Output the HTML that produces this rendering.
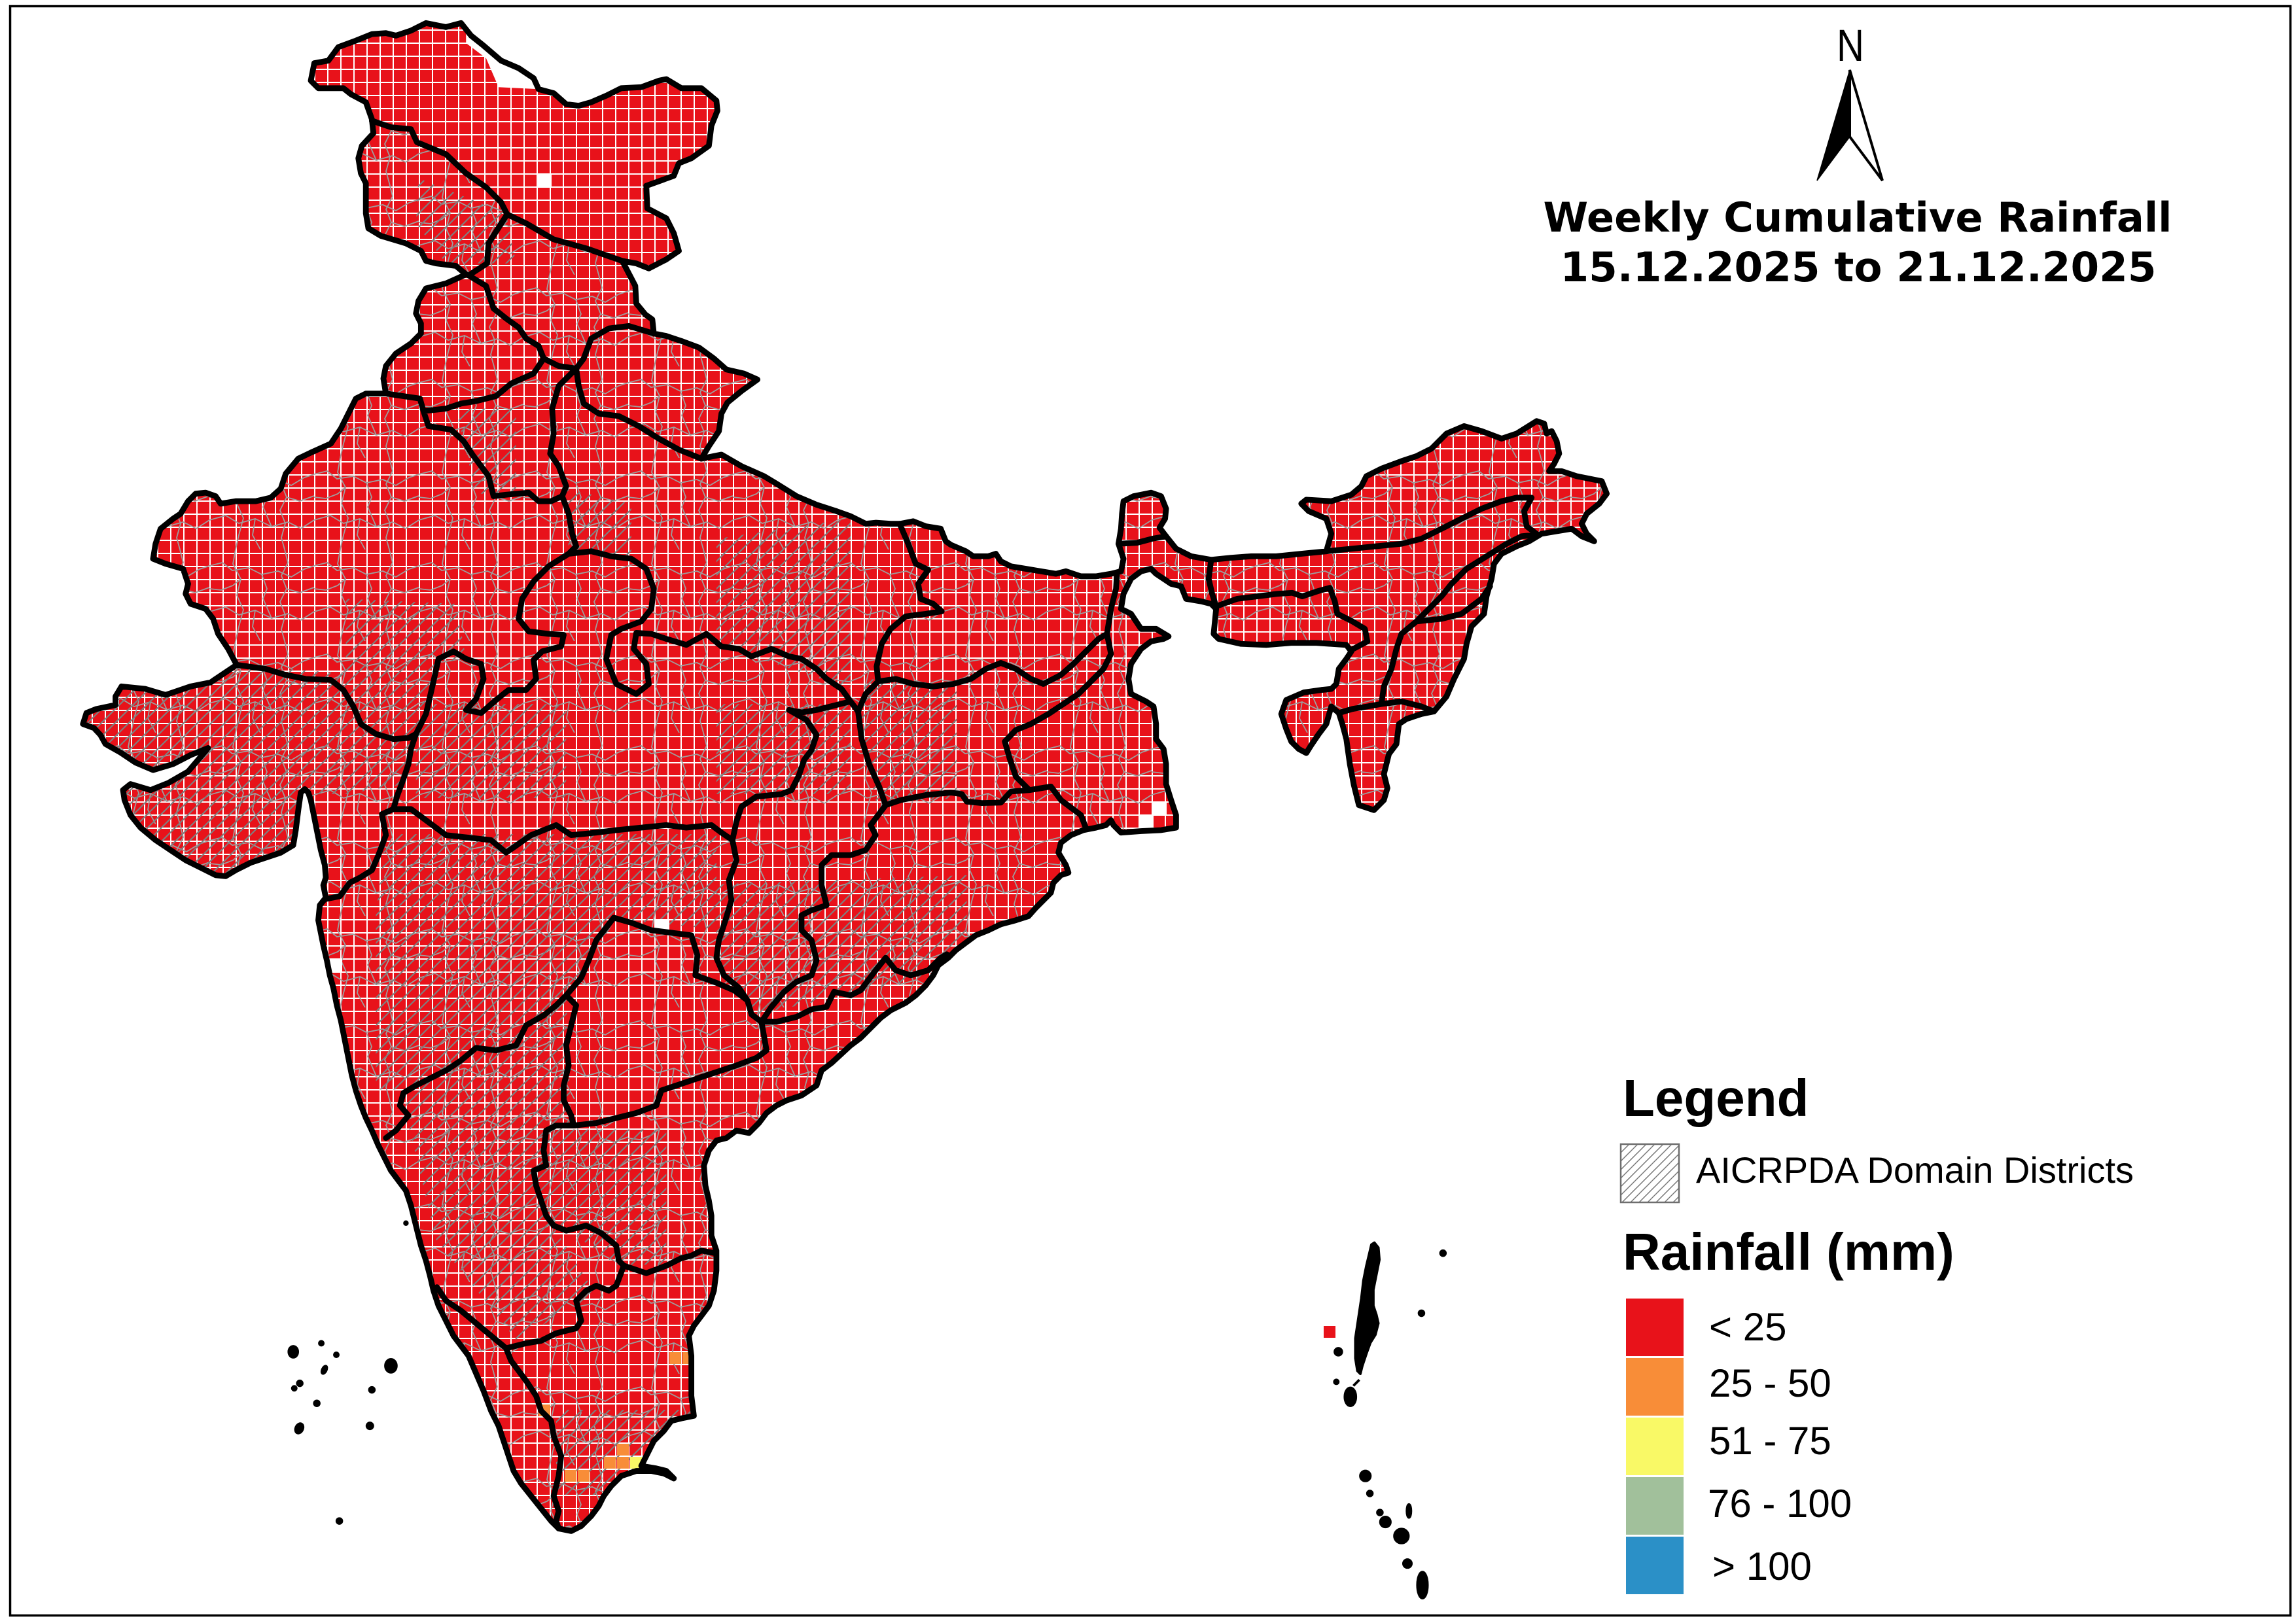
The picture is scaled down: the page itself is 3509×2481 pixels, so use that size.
<!DOCTYPE html>
<html>
<head>
<meta charset="utf-8">
<style>
html,body{margin:0;padding:0;background:#fff;}
svg{display:block;}
</style>
</head>
<body>
<svg xmlns="http://www.w3.org/2000/svg" xmlns:xlink="http://www.w3.org/1999/xlink" width="3509" height="2481" viewBox="0 0 3509 2481">
<defs>
  <pattern id="grid" patternUnits="userSpaceOnUse" x="0" y="5" width="20" height="20">
    <rect width="20" height="20" fill="#ffffff"/>
    <rect x="2" y="2" width="18" height="18" fill="#E8121A"/>
  </pattern>
  <pattern id="hat" patternUnits="userSpaceOnUse" x="0" y="0" width="21" height="21">
    <path d="M0,21 L21,0 M-4,4 L4,-4 M17,25 L25,17" stroke="#7f7f7f" stroke-width="2.2" fill="none"/>
  </pattern>
  <pattern id="lhat" patternUnits="userSpaceOnUse" x="2477" y="1749" width="13" height="13">
    <rect width="13" height="13" fill="#fff"/>
    <path d="M0,13 L13,0 M-3,3 L3,-3 M10,16 L16,10" stroke="#777" stroke-width="1.5" fill="none"/>
  </pattern>
  <pattern id="dist" patternUnits="userSpaceOnUse" x="0" y="0" width="160" height="140">
    <g fill="none" stroke="#9e9e9e" stroke-width="1.8">
      <path d="M0,25 L20,20 L35,32 L60,28 L80,38 L105,33 L125,42 L145,30 L160,25"/>
      <path d="M0,95 L25,88 L45,100 L70,93 L95,105 L120,98 L140,108 L160,95"/>
      <path d="M40,0 L36,22 L48,45 L42,70 L52,92 L45,118 L40,140"/>
      <path d="M115,0 L120,20 L110,40 L118,60 L108,80 L116,100 L110,122 L115,140"/>
      <path d="M80,38 L88,60 L82,75 L95,105"/>
      <path d="M0,60 L18,62 L36,55 L48,45"/>
      <path d="M118,60 L138,66 L160,58"/>
      <path d="M70,93 L66,118 L78,140"/>
    </g>
  </pattern>

  <path id="ind" d="M490,135 L497,100 L525,95 L545,68 L580,55 L612,42 L640,40 L660,45 L690,35 L720,20 L760,28 L790,20 L810,45 L835,65 L870,95 L905,110 L935,130 L945,152 L975,160 L1000,182 L1025,185 L1050,178 L1080,165 L1110,150 L1150,148 L1185,135 L1200,132 L1230,150 L1270,150 L1300,175 L1302,195 L1290,225 L1285,265 L1250,290 L1225,300 L1215,325 L1160,345 L1162,390 L1200,410 L1215,440 L1225,475 L1200,492 L1165,510 L1140,500 L1112,495 L1125,520 L1138,545 L1140,580 L1158,602 L1172,612 L1175,640 L1200,645 L1230,655 L1265,668 L1295,690 L1320,712 L1355,720 L1382,732 L1350,755 L1322,778 L1310,800 L1305,835 L1285,865 L1270,890 L1310,882 L1350,905 L1395,925 L1420,940 L1460,965 L1500,982 L1540,995 L1568,1005 L1598,1020 L1618,1018 L1648,1020 L1668,1020 L1693,1015 L1718,1025 L1748,1030 L1758,1055 L1768,1062 L1798,1075 L1813,1085 L1843,1085 L1858,1080 L1868,1095 L1888,1105 L1918,1110 L1948,1115 L1978,1120 L1998,1115 L2028,1125 L2058,1125 L2088,1120 L2108,1115 L2113,1090 L2103,1060 L2108,1030 L2110,1000 L2113,975 L2133,965 L2168,958 L2188,965 L2198,990 L2196,1010 L2185,1028 L2198,1045 L2218,1070 L2248,1085 L2288,1092 L2328,1088 L2368,1085 L2418,1085 L2468,1080 L2518,1075 L2528,1040 L2518,1010 L2483,995 L2468,980 L2478,972 L2528,975 L2568,962 L2588,945 L2598,925 L2628,910 L2668,895 L2698,885 L2728,870 L2758,840 L2793,825 L2828,835 L2868,850 L2898,840 L2938,815 L2953,820 L2958,840 L2968,835 L2978,855 L2983,880 L2973,900 L2963,915 L2988,915 L3018,925 L3068,935 L3078,960 L3063,980 L3038,1000 L3028,1020 L3038,1040 L3053,1055 L3028,1045 L3008,1030 L2978,1035 L2948,1040 L2923,1055 L2898,1065 L2868,1080 L2853,1100 L2848,1130 L2838,1165 L2833,1200 L2808,1225 L2798,1260 L2793,1290 L2773,1330 L2758,1365 L2733,1395 L2708,1400 L2678,1410 L2663,1420 L2658,1460 L2643,1480 L2633,1520 L2640,1548 L2633,1572 L2613,1592 L2583,1582 L2573,1542 L2565,1500 L2558,1450 L2550,1420 L2543,1398 L2528,1385 L2518,1420 L2503,1440 L2488,1462 L2478,1478 L2463,1470 L2448,1455 L2438,1430 L2428,1400 L2438,1372 L2473,1357 L2508,1352 L2528,1350 L2538,1340 L2543,1310 L2558,1290 L2568,1275 L2558,1262 L2498,1258 L2448,1258 L2398,1262 L2348,1260 L2303,1250 L2293,1240 L2298,1190 L2288,1180 L2268,1175 L2238,1170 L2228,1145 L2208,1140 L2178,1120 L2168,1110 L2148,1115 L2128,1130 L2113,1160 L2108,1190 L2128,1200 L2148,1230 L2178,1230 L2203,1245 L2193,1250 L2168,1255 L2148,1270 L2128,1300 L2123,1330 L2128,1360 L2158,1375 L2173,1385 L2178,1420 L2178,1450 L2193,1470 L2198,1500 L2198,1540 L2208,1572 L2218,1602 L2218,1627 L2188,1632 L2148,1634 L2108,1637 L2093,1622 L2088,1612 L2078,1622 L2058,1627 L2033,1632 L2008,1642 L1988,1657 L1983,1677 L1998,1702 L2003,1717 L1988,1722 L1973,1737 L1968,1757 L1953,1772 L1938,1787 L1923,1804 L1898,1812 L1868,1820 L1843,1832 L1818,1842 L1798,1857 L1778,1872 L1763,1887 L1743,1902 L1733,1922 L1718,1942 L1698,1962 L1678,1977 L1648,1992 L1628,2007 L1608,2027 L1588,2047 L1568,2062 L1530,2097 L1510,2112 L1500,2142 L1470,2162 L1440,2172 L1420,2182 L1400,2197 L1385,2217 L1365,2237 L1340,2232 L1320,2247 L1300,2252 L1285,2272 L1275,2302 L1278,2342 L1285,2372 L1290,2402 L1290,2442 L1300,2472 L1300,2512 L1295,2552 L1285,2582 L1270,2602 L1255,2622 L1245,2642 L1250,2682 L1250,2722 L1250,2762 L1255,2802 L1230,2807 L1210,2812 L1195,2832 L1175,2852 L1160,2882 L1150,2902 L1180,2907 L1200,2912 L1215,2927 L1195,2917 L1170,2912 L1140,2912 L1110,2922 L1090,2942 L1075,2962 L1065,2982 L1050,3002 L1030,3022 L1010,3032 L985,3027 L970,3012 L950,2987 L930,2962 L910,2937 L895,2912 L885,2882 L875,2852 L865,2822 L850,2792 L835,2752 L820,2717 L805,2682 L790,2662 L775,2642 L760,2612 L745,2582 L735,2552 L728,2522 L720,2492 L710,2462 L700,2422 L690,2382 L680,2352 L665,2332 L650,2312 L635,2282 L625,2262 L612,2232 L600,2207 L590,2182 L580,2152 L572,2122 L565,2087 L558,2052 L550,2012 L542,1982 L535,1947 L528,1922 L522,1892 L515,1862 L510,1837 L505,1812 L508,1782 L520,1767 L515,1742 L520,1727 L518,1702 L510,1672 L505,1647 L500,1622 L495,1597 L490,1572 L485,1557 L478,1550 L470,1557 L465,1592 L460,1632 L455,1662 L430,1677 L400,1687 L370,1697 L340,1712 L320,1724 L300,1722 L270,1707 L240,1692 L210,1672 L180,1652 L150,1627 L130,1602 L118,1572 L115,1552 L130,1540 L170,1552 L205,1538 L245,1515 L285,1468 L250,1482 L215,1500 L175,1512 L140,1497 L110,1477 L80,1460 L70,1442 L57,1428 L35,1420 L42,1398 L62,1390 L100,1382 L100,1365 L112,1345 L160,1350 L200,1362 L250,1345 L290,1337 L300,1330 L330,1310 L342,1302 L325,1270 L305,1240 L295,1210 L280,1190 L250,1180 L240,1160 L245,1140 L235,1110 L200,1100 L175,1090 L180,1060 L190,1030 L215,1010 L230,1000 L245,975 L260,960 L280,958 L300,965 L310,980 L340,975 L380,975 L410,968 L430,950 L440,920 L465,890 L490,878 L530,860 L550,830 L565,800 L580,770 L600,760 L640,760 L635,730 L640,705 L660,680 L690,660 L710,640 L710,620 L700,600 L705,575 L720,550 L760,540 L800,522 L780,505 L740,500 L720,495 L710,475 L680,460 L630,445 L605,430 L600,400 L600,340 L590,320 L585,290 L592,265 L615,240 L612,212 L600,178 L570,162 L555,150 L505,150 Z"/>

  <path id="lad" d="M490,135 L497,100 L525,95 L545,68 L580,55 L612,42 L640,40 L660,45 L690,35 L720,20 L760,28 L790,20 L810,45 L835,65 L870,95 L905,110 L935,130 L945,152 L975,160 L1000,182 L1025,185 L1050,178 L1080,165 L1110,150 L1150,148 L1185,135 L1200,132 L1230,150 L1270,150 L1300,175 L1302,195 L1290,225 L1285,265 L1250,290 L1225,300 L1215,325 L1160,345 L1162,390 L1200,410 L1215,440 L1225,475 L1200,492 L1165,510 L1140,500 L1112,495 L1040,470 L975,452 L920,420 L882,402 L870,378 L840,348 L800,320 L760,282 L702,258 L690,232 L650,228 L612,215 L600,178 L570,162 L555,150 L505,150 Z"/>

  <clipPath id="cl" clipPathUnits="userSpaceOnUse">
    <use xlink:href="#ind" href="#ind" transform="translate(100,20) scale(0.7653)"/>
  </clipPath>

  <clipPath id="hclip" clipPathUnits="userSpaceOnUse">
    <path transform="translate(100,20) scale(0.7653)" d="M30,1300 L340,1300 L560,1320 L640,1430 L700,1440 L680,1540 L560,1560 L480,1560 L470,1720 L100,1720 L30,1560 Z
    M560,1170 L780,1180 L800,1290 L740,1300 L700,1440 L600,1430 L560,1320 Z
    M780,790 L900,790 L900,960 L820,960 Z
    M705,330 L880,400 L900,500 L760,500 L700,420 Z
    M1000,950 L1130,980 L1130,1090 L1005,1080 Z
    M1300,1050 L1568,1010 L1568,1350 L1300,1260 Z
    M700,1380 L1000,1380 L1000,1568 L700,1568 Z
    M1300,1380 L1568,1380 L1568,1560 L1300,1560 Z
    M640,1640 L1300,1640 L1300,1830 L1100,1810 L1000,1960 L900,2060 L700,2150 L620,2150 L620,1800 Z
    M680,2000 L1000,1960 L1010,2220 L960,2400 L1060,2560 L900,2650 L740,2450 L680,2200 Z
    M960,2230 L1200,2230 L1200,2500 L1100,2500 L960,2400 Z
    M980,2790 L1250,2790 L1250,2960 L980,2960 Z
    M1300,1740 L1800,1722 L1800,1860 L1700,1930 L1568,1960 L1380,2000 L1300,1900 Z
    M1600,1330 L1780,1340 L1780,1568 L1620,1580 L1580,1400 Z"/>
  </clipPath>

  <mask id="dm" maskUnits="userSpaceOnUse" x="0" y="0" width="3509" height="2481">
    <g transform="translate(100,20) scale(0.7653)">
      <use xlink:href="#ind" href="#ind" fill="#fff"/>
      <use xlink:href="#lad" href="#lad" fill="#000"/>
    </g>
  </mask>
</defs>

<rect x="0" y="0" width="3509" height="2481" fill="#ffffff"/>

<!-- Map fill -->
<g clip-path="url(#cl)">
  <rect x="0" y="0" width="3509" height="2481" fill="url(#grid)"/>
  <rect x="0" y="0" width="3509" height="2481" fill="url(#dist)" mask="url(#dm)"/>
  <rect x="0" y="0" width="3509" height="2481" fill="url(#hat)" clip-path="url(#hclip)"/>
  <g fill="#F88D38">
    <rect x="1023" y="2067" width="18" height="18"/>
    <rect x="1043" y="2067" width="18" height="18"/>
    <rect x="823" y="2147" width="18" height="18"/>
    <rect x="943" y="2207" width="18" height="18"/>
    <rect x="923" y="2227" width="18" height="18"/>
    <rect x="943" y="2227" width="18" height="18"/>
    <rect x="863" y="2247" width="18" height="18"/>
    <rect x="883" y="2247" width="18" height="18"/>
  </g>
  <rect x="963" y="2227" width="18" height="18" fill="#F9F966"/>
  <g fill="#ffffff">
    <rect x="821" y="265" width="22" height="22"/>
    <rect x="1001" y="1405" width="22" height="22"/>
    <rect x="501" y="1465" width="22" height="22"/>
    <rect x="1761" y="1225" width="22" height="22"/>
    <rect x="1741" y="1245" width="22" height="22"/>
    <path transform="translate(100,20) scale(0.7653)" d="M800,40 L870,95 L935,130 L948,152 L865,148 L840,90 L800,60 Z"/>
  </g>
</g>

<rect x="2023" y="2027" width="18" height="18" fill="#E8121A"/>

<!-- Boundaries -->
<g transform="translate(100,20) scale(0.7653)" fill="none" stroke="#000" stroke-width="11.5" stroke-linejoin="round" stroke-linecap="round">
  <use xlink:href="#ind" href="#ind"/>
  <path d="M612,215 L650,228 L690,232 L702,258 L760,282 L800,320 L840,348 L870,378 L882,402 L920,420 L975,452 L1040,470 L1112,495
  M882,402 L845,460 L842,500 L805,524
  M805,524 L840,545 L855,590 L880,610 L905,628 L920,650 L945,665 L955,690
  M955,690 L935,720 L890,740 L860,765 L820,775 L790,780 L760,790 L715,795 L708,770 L640,760
  M955,690 L985,705 L1020,710 L1035,690 L1050,650 L1085,630 L1125,625 L1175,640
  M1020,710 L1025,745 L1035,780 L1065,800 L1105,805 L1145,825 L1185,850 L1225,872 L1270,890
  M1020,710 L985,745 L972,790 L975,840 L968,880 L985,905 L1000,945 L992,965
  M715,795 L725,825 L770,832 L795,855 L815,885 L845,925 L855,965 L880,962 L925,958 L945,975 L970,975 L992,965
  M992,965 L1005,1000 L1012,1040 L1020,1065 L1005,1080
  M1005,1080 L965,1105 L935,1135 L912,1170 L905,1210 L925,1235 L965,1240 L995,1242 L990,1265 L952,1275 L935,1292 L940,1330 L920,1352 L885,1352 L860,1372 L830,1398 L800,1392 L820,1370 L835,1330 L830,1300 L800,1290 L775,1275 L745,1290 L735,1335 L720,1400 L700,1440
  M342,1302 L400,1310 L440,1322 L480,1330 L530,1332 L555,1352 L575,1385 L590,1420 L620,1440 L655,1450 L685,1448 L700,1440
  M700,1440 L690,1470 L685,1500 L675,1530 L662,1565 L655,1590
  M655,1590 L632,1600 L640,1642 L625,1682 L612,1712 L588,1727 L568,1737 L548,1764 L518,1770
  M655,1590 L690,1590 L760,1642 L850,1652 L880,1677 L930,1642 L980,1622 L1010,1642 L1060,1637 L1100,1632 L1150,1627 L1200,1622 L1240,1627 L1290,1622 L1310,1637 L1332,1652
  M1005,1080 L1050,1075 L1090,1085 L1130,1090 L1160,1110 L1175,1150 L1170,1190 L1150,1215 L1110,1230 L1090,1242 L1080,1290 L1100,1340 L1140,1360 L1165,1340 L1160,1300 L1135,1270 L1140,1238 L1170,1240 L1200,1250 L1240,1262 L1280,1240 L1310,1265 L1345,1270 L1370,1285 L1410,1270 L1445,1285 L1470,1290 L1500,1310 L1520,1330 L1550,1350 L1568,1375
  M1568,1375 L1540,1382 L1500,1392 L1470,1397 L1445,1392 L1480,1412 L1500,1442 L1490,1472 L1475,1492 L1465,1522 L1450,1552 L1430,1560 L1380,1565 L1350,1585 L1340,1615 L1332,1652
  M1568,1375 L1583,1395 L1598,1360 L1623,1335
  M1583,1395 L1590,1450 L1605,1500 L1625,1545 L1638,1582
  M1666,1020 L1683,1060 L1698,1100 L1723,1112 L1703,1140 L1708,1170 L1733,1180 L1750,1195 L1718,1200 L1678,1205 L1648,1230 L1630,1260 L1620,1305 L1623,1335
  M1623,1335 L1658,1330 L1693,1340 L1733,1345 L1773,1340 L1808,1330 L1838,1310 L1868,1298 L1898,1310 L1928,1330 L1953,1340 L1988,1322 L2013,1300 L2038,1275 L2063,1250 L2080,1240
  M2100,1118 L2098,1150 L2088,1190 L2080,1240
  M2080,1240 L2088,1280 L2073,1310 L2043,1340 L2023,1360 L1993,1380 L1963,1400 L1928,1420 L1898,1432 L1876,1455 L1886,1490 L1898,1525 L1925,1552
  M1638,1582 L1668,1572 L1718,1562 L1768,1557 L1790,1560 L1800,1575 L1830,1578 L1868,1577 L1888,1555 L1925,1552
  M1925,1552 L1968,1545 L1988,1572 L2028,1602 L2038,1628
  M1638,1582 L1608,1622 L1618,1642 L1598,1672 L1568,1682 L1530,1682 L1510,1702 L1510,1742 L1520,1782 L1490,1792 L1470,1802 L1470,1832 L1490,1852 L1500,1892 L1490,1922 L1460,1935 L1435,1955 L1410,1985 L1390,2015
  M1390,2015 L1420,2015 L1460,2005 L1490,1990 L1520,1985 L1535,1955 L1568,1962 L1588,1952 L1618,1912 L1638,1887 L1658,1912 L1688,1922 L1723,1912 L1748,1887 L1760,1880
  M1332,1652 L1340,1692 L1325,1732 L1330,1772 L1318,1812 L1305,1852 L1300,1887 L1315,1922 L1345,1947 L1362,1972 L1370,2000 L1390,2015
  M1095,1807 L1130,1817 L1170,1832 L1210,1837 L1250,1842 L1262,1882 L1258,1922 L1300,1937 L1335,1952 L1362,1972
  M1390,2015 L1398,2060 L1400,2072 L1380,2087 L1340,2102 L1310,2112 L1280,2122 L1250,2132 L1220,2142 L1190,2152 L1180,2182 L1140,2197 L1100,2207 L1060,2217 L1015,2222
  M1095,1807 L1060,1852 L1045,1892 L1030,1927 L1000,1962 L980,1982 L955,2002 L920,2022 L900,2062 L860,2072 L820,2067 L790,2092 L760,2112 L730,2127 L700,2142 L675,2157 L668,2182 L685,2202 L660,2232 L640,2247
  M1000,1962 L1020,1982 L1010,2022 L1000,2062 L1005,2102 L995,2142 L995,2172 L1010,2202 L1015,2222
  M1015,2222 L980,2222 L960,2232 L955,2272 L960,2302 L935,2312 L940,2342 L950,2372 L960,2402 L975,2422 L1000,2432 L1040,2422 L1070,2437 L1100,2462 L1105,2492 L1115,2502
  M1115,2502 L1160,2517 L1200,2502 L1230,2487 L1250,2482 L1270,2472 L1298,2477
  M1115,2502 L1100,2542 L1085,2552 L1060,2542 L1040,2552 L1020,2572 L1030,2612 L1020,2627 L980,2637 L950,2652 L920,2657 L880,2667
  M880,2667 L850,2642 L820,2617 L790,2592 L760,2572 L742,2545
  M880,2667 L890,2692 L905,2712 L920,2732 L940,2762 L950,2792 L970,2812 L975,2842 L990,2882 L985,2922 L975,2962 L985,2992 L980,3012 L985,3027
  M2103,1060 L2140,1058 L2170,1050 L2198,1045
  M2288,1092 L2283,1130 L2290,1160 L2298,1185
  M2298,1185 L2340,1170 L2380,1165 L2420,1160 L2450,1158 L2470,1165 L2500,1155 L2525,1148 L2535,1175 L2540,1200 L2570,1215 L2595,1230 L2600,1255 L2568,1272
  M2518,1075 L2568,1070 L2618,1065 L2668,1060 L2708,1050 L2748,1030 L2788,1010 L2828,990 L2868,975 L2898,968 L2928,968 L2913,995 L2918,1025 L2940,1042
  M2940,1042 L2908,1045 L2878,1060 L2838,1085 L2798,1110 L2768,1140 L2748,1165 L2723,1190 L2698,1215 L2668,1240 L2658,1270 L2648,1310 L2633,1345 L2628,1380 L2600,1385 L2570,1390 L2543,1398
  M2698,1215 L2748,1210 L2788,1200 L2828,1170 L2845,1145
  M2628,1380 L2668,1375 L2708,1385 L2733,1395"/>
</g>

<!-- Islands -->
<g transform="translate(100,20) scale(0.7653)" fill="#000" stroke="#000" stroke-width="5" stroke-linejoin="round">
  <path d="M2614,2456 L2622,2466 L2624,2490 L2618,2520 L2612,2550 L2612,2582 L2618,2600 L2622,2617 L2616,2640 L2606,2656 L2598,2678 L2590,2702 L2586,2718 L2580,2712 L2576,2687 L2576,2647 L2582,2607 L2588,2567 L2592,2532 L2598,2502 L2604,2477 L2608,2460 Z"/>
  <ellipse cx="2566" cy="2764" rx="11" ry="18"/>
  <path d="M2572,2742 L2584,2730" fill="none" stroke-width="5"/>
  <circle cx="2542" cy="2674" r="7"/>
  <circle cx="2538" cy="2734" r="4"/>
  <circle cx="2751" cy="2477" r="5"/>
  <circle cx="2708" cy="2597" r="5"/>
  <circle cx="2596" cy="2922" r="10"/>
  <circle cx="2605" cy="2957" r="5"/>
  <circle cx="2625" cy="2995" r="5"/>
  <circle cx="2636" cy="3014" r="10"/>
  <ellipse cx="2683" cy="2992" rx="4" ry="13"/>
  <circle cx="2668" cy="3042" r="14"/>
  <circle cx="2680" cy="3097" r="8"/>
  <ellipse cx="2710" cy="3140" rx="10" ry="26"/>
  <ellipse cx="455" cy="2674" rx="9" ry="11"/>
  <circle cx="511" cy="2657" r="4"/>
  <circle cx="541" cy="2680" r="4"/>
  <ellipse cx="517" cy="2710" rx="4" ry="8" transform="rotate(25 517 2710)"/>
  <ellipse cx="650" cy="2702" rx="11" ry="13"/>
  <circle cx="468" cy="2737" r="5"/>
  <circle cx="457" cy="2747" r="4"/>
  <circle cx="612" cy="2750" r="5"/>
  <circle cx="502" cy="2777" r="5"/>
  <ellipse cx="467" cy="2827" rx="7" ry="10" transform="rotate(25 467 2827)"/>
  <circle cx="608" cy="2822" r="6"/>
  <circle cx="547" cy="3012" r="5"/>
  <circle cx="680" cy="2417" r="3"/>
</g>

<!-- Frame -->
<rect x="15.5" y="9.5" width="3485" height="2460" fill="none" stroke="#000" stroke-width="3.5"/>

<!-- North arrow -->
<text x="2828" y="93" font-family="Liberation Sans, Arial, sans-serif" font-size="69" text-anchor="middle" textLength="42" lengthAdjust="spacingAndGlyphs" fill="#000">N</text>
<polygon points="2827,107 2827,209 2777,276" fill="#000" stroke="#000" stroke-width="1.5" stroke-linejoin="miter"/>
<polygon points="2827,107 2877,276 2827,209" fill="#fff" stroke="#000" stroke-width="4" stroke-linejoin="miter"/>

<!-- Title -->
<text x="2839" y="354" font-family="DejaVu Sans, Verdana, sans-serif" font-weight="bold" font-size="62" text-anchor="middle" textLength="961" lengthAdjust="spacingAndGlyphs" fill="#000">Weekly Cumulative Rainfall</text>
<text x="2840" y="430" font-family="DejaVu Sans, Verdana, sans-serif" font-weight="bold" font-size="62" text-anchor="middle" textLength="911" lengthAdjust="spacingAndGlyphs" fill="#000">15.12.2025 to 21.12.2025</text>

<!-- Legend -->
<g font-family="Liberation Sans, Arial, sans-serif" fill="#000">
  <text x="2480" y="1706" font-weight="bold" font-size="80">Legend</text>
  <rect x="2477" y="1749" width="89" height="89" fill="url(#lhat)" stroke="#6e6e6e" stroke-width="2.5"/>
  <text x="2592" y="1808" font-size="56">AICRPDA Domain Districts</text>
  <text x="2480" y="1941" font-weight="bold" font-size="80">Rainfall (mm)</text>
  <rect x="2485" y="1985" width="88" height="88" fill="#E8121A"/>
  <rect x="2485" y="2076" width="88" height="88" fill="#F88D38"/>
  <rect x="2485" y="2167" width="88" height="88" fill="#F9F966"/>
  <rect x="2485" y="2258" width="88" height="88" fill="#A1C09B"/>
  <rect x="2485" y="2349" width="88" height="88" fill="#2B90C7"/>
  <text x="2612" y="2049" font-size="60">&lt; 25</text>
  <text x="2612" y="2135" font-size="60">25 - 50</text>
  <text x="2612" y="2223" font-size="60">51 - 75</text>
  <text x="2610" y="2319" font-size="60">76 - 100</text>
  <text x="2617" y="2415" font-size="60">&gt; 100</text>
</g>
</svg>
</body>
</html>
